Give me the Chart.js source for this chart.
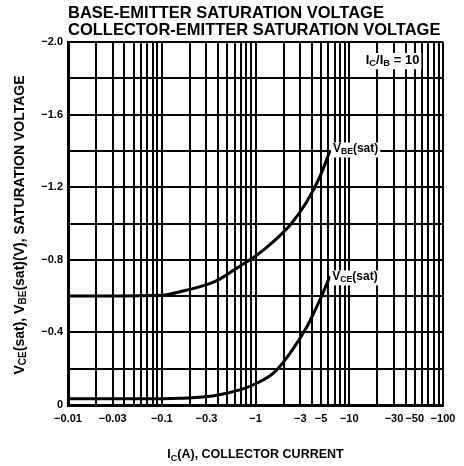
<!DOCTYPE html>
<html>
<head>
<meta charset="utf-8">
<script src="https://cdn.jsdelivr.net/npm/chart.js@4/dist/chart.umd.min.js"></script>
<style>
  html, body { margin: 0; padding: 0; background: #fff; }
  canvas { display: block; }
</style>
</head>
<body>
<canvas id="satChart" width="464" height="466"></canvas>
<script>
// readings (Ic magnitude in A, voltage in V)
const currentA = [0.01, 0.1, 0.16, 0.33, 0.42, 0.68, 1.03, 1.55, 2.33, 3.52, 4.88, 6.23];
const vbeSat = [-0.60, -0.605, -0.625, -0.67, -0.695, -0.765, -0.825, -0.90, -0.99, -1.12, -1.26, -1.40];
const vceSat = [-0.035, -0.035, -0.037, -0.048, -0.058, -0.083, -0.12, -0.175, -0.285, -0.43, -0.58, -0.71];

// x tick labels shown under the axis, y labels every 0.4 V
const xTickLabels = [0.01, 0.03, 0.1, 0.3, 1, 3, 5, 10, 30, 50, 100];
const yTickLabels = [0, -0.4, -0.8, -1.2, -1.6, -2.0];
const decades = [0.01, 0.1, 1, 10];

const FONT = '"Liberation Sans", Arial, sans-serif';
const MINUS = '\u2212';

function toPoints(xs, ys) {
  return xs.map((x, i) => ({ x: x, y: ys[i] }));
}

// draw text made of parts, some as subscripts
function richWidth(ctx, parts, size) {
  let w = 0;
  parts.forEach(p => {
    ctx.font = 'bold ' + (p.sub ? size * 0.72 : size) + 'px ' + FONT;
    w += ctx.measureText(p.t).width;
  });
  return w;
}
function drawRich(ctx, parts, x, y, size) {
  parts.forEach(p => {
    const s = p.sub ? size * 0.72 : size;
    ctx.font = 'bold ' + s + 'px ' + FONT;
    ctx.fillText(p.t, x, p.sub ? y + size * 0.25 : y);
    x += ctx.measureText(p.t).width;
  });
}
function labelBox(ctx, parts, x, y, size) {
  const w = richWidth(ctx, parts, size);
  ctx.fillStyle = '#fff';
  ctx.fillRect(x - 2, y - size * 0.55, w + 4, size * 1.25);
  ctx.fillStyle = '#000';
  drawRich(ctx, parts, x, y, size);
}

const textPlugin = {
  id: 'sheetText',
  afterDatasetsDraw(chart) {
    const ctx = chart.ctx;
    const xs = chart.scales.x, ys = chart.scales.y;
    ctx.save();
    ctx.textBaseline = 'middle';
    labelBox(ctx, [{ t: 'V' }, { t: 'BE', sub: true }, { t: '(sat)' }],
      xs.getPixelForValue(6.7), ys.getPixelForValue(-1.41), 12);
    labelBox(ctx, [{ t: 'V' }, { t: 'CE', sub: true }, { t: '(sat)' }],
      xs.getPixelForValue(6.6), ys.getPixelForValue(-0.705), 12);
    labelBox(ctx, [{ t: 'I' }, { t: 'C', sub: true }, { t: '/I' }, { t: 'B', sub: true }, { t: ' = 10' }],
      xs.getPixelForValue(15), ys.getPixelForValue(-1.9), 13);
    ctx.restore();
  },
  afterDraw(chart) {
    const ctx = chart.ctx;
    const area = chart.chartArea;
    ctx.save();
    ctx.fillStyle = '#000';
    ctx.textBaseline = 'middle';
    ctx.textAlign = 'left';
    ctx.font = 'bold 16.5px ' + FONT;
    ctx.fillText('BASE-EMITTER SATURATION VOLTAGE', area.left, 13);
    ctx.fillText('COLLECTOR-EMITTER SATURATION VOLTAGE', area.left, 30);

    // x axis title
    const xParts = [{ t: 'I' }, { t: 'C', sub: true }, { t: '(A), COLLECTOR CURRENT' }];
    const xw = richWidth(ctx, xParts, 12.5);
    drawRich(ctx, xParts, (area.left + area.right) / 2 - xw / 2, 455, 12.5);

    // y axis title, rotated
    const yParts = [{ t: 'V' }, { t: 'CE', sub: true }, { t: '(sat), V' }, { t: 'BE', sub: true },
      { t: '(sat)(V), SATURATION VOLTAGE' }];
    const yw = richWidth(ctx, yParts, 14);
    ctx.translate(20, 225);
    ctx.rotate(-Math.PI / 2);
    drawRich(ctx, yParts, -yw / 2, 0, 14);
    ctx.restore();
  }
};

const lineStyle = {
  borderColor: '#000',
  borderWidth: 3,
  pointRadius: 0,
  fill: false,
  cubicInterpolationMode: 'monotone'
};

new Chart(document.getElementById('satChart').getContext('2d'), {
  type: 'line',
  data: {
    datasets: [
      Object.assign({ label: 'VBE(sat)', data: toPoints(currentA, vbeSat) }, lineStyle),
      Object.assign({ label: 'VCE(sat)', data: toPoints(currentA, vceSat) }, lineStyle)
    ]
  },
  options: {
    responsive: false,
    animation: false,
    layout: { padding: { top: 42, right: 21, bottom: 0, left: 0 } },
    plugins: { legend: { display: false }, tooltip: { enabled: false } },
    scales: {
      x: {
        type: 'logarithmic',
        min: 0.01,
        max: 100,
        afterBuildTicks: scale => {
          const ticks = [];
          decades.forEach(d => {
            for (let k = 1; k <= 9; k++) ticks.push({ value: +(d * k).toPrecision(3) });
          });
          ticks.push({ value: 100 });
          scale.ticks = ticks;
        },
        afterFit: scale => { scale.height = 61; },
        grid: { color: '#000', lineWidth: 2, drawTicks: false },
        border: { color: '#000', width: 3 },
        ticks: {
          autoSkip: false,
          maxRotation: 0,
          padding: 7,
          color: '#000',
          font: { family: FONT, size: 11, weight: 'bold' },
          callback: v => xTickLabels.some(t => Math.abs(t - v) < 1e-9) ? MINUS + v : ''
        }
      },
      y: {
        type: 'linear',
        min: -2,
        max: 0,
        reverse: true,
        afterFit: scale => { scale.width = 68; },
        grid: { color: '#000', lineWidth: 2, drawTicks: false },
        border: { color: '#000', width: 3 },
        ticks: {
          stepSize: 0.2,
          padding: 5,
          color: '#000',
          font: { family: FONT, size: 11, weight: 'bold' },
          callback: v => {
            const hit = yTickLabels.find(t => Math.abs(t - v) < 1e-9);
            if (hit === undefined) return '';
            if (hit === 0) return '0';
            return MINUS + Math.abs(hit).toFixed(1);
          }
        }
      }
    }
  },
  plugins: [textPlugin]
});
</script>
</body>
</html>
